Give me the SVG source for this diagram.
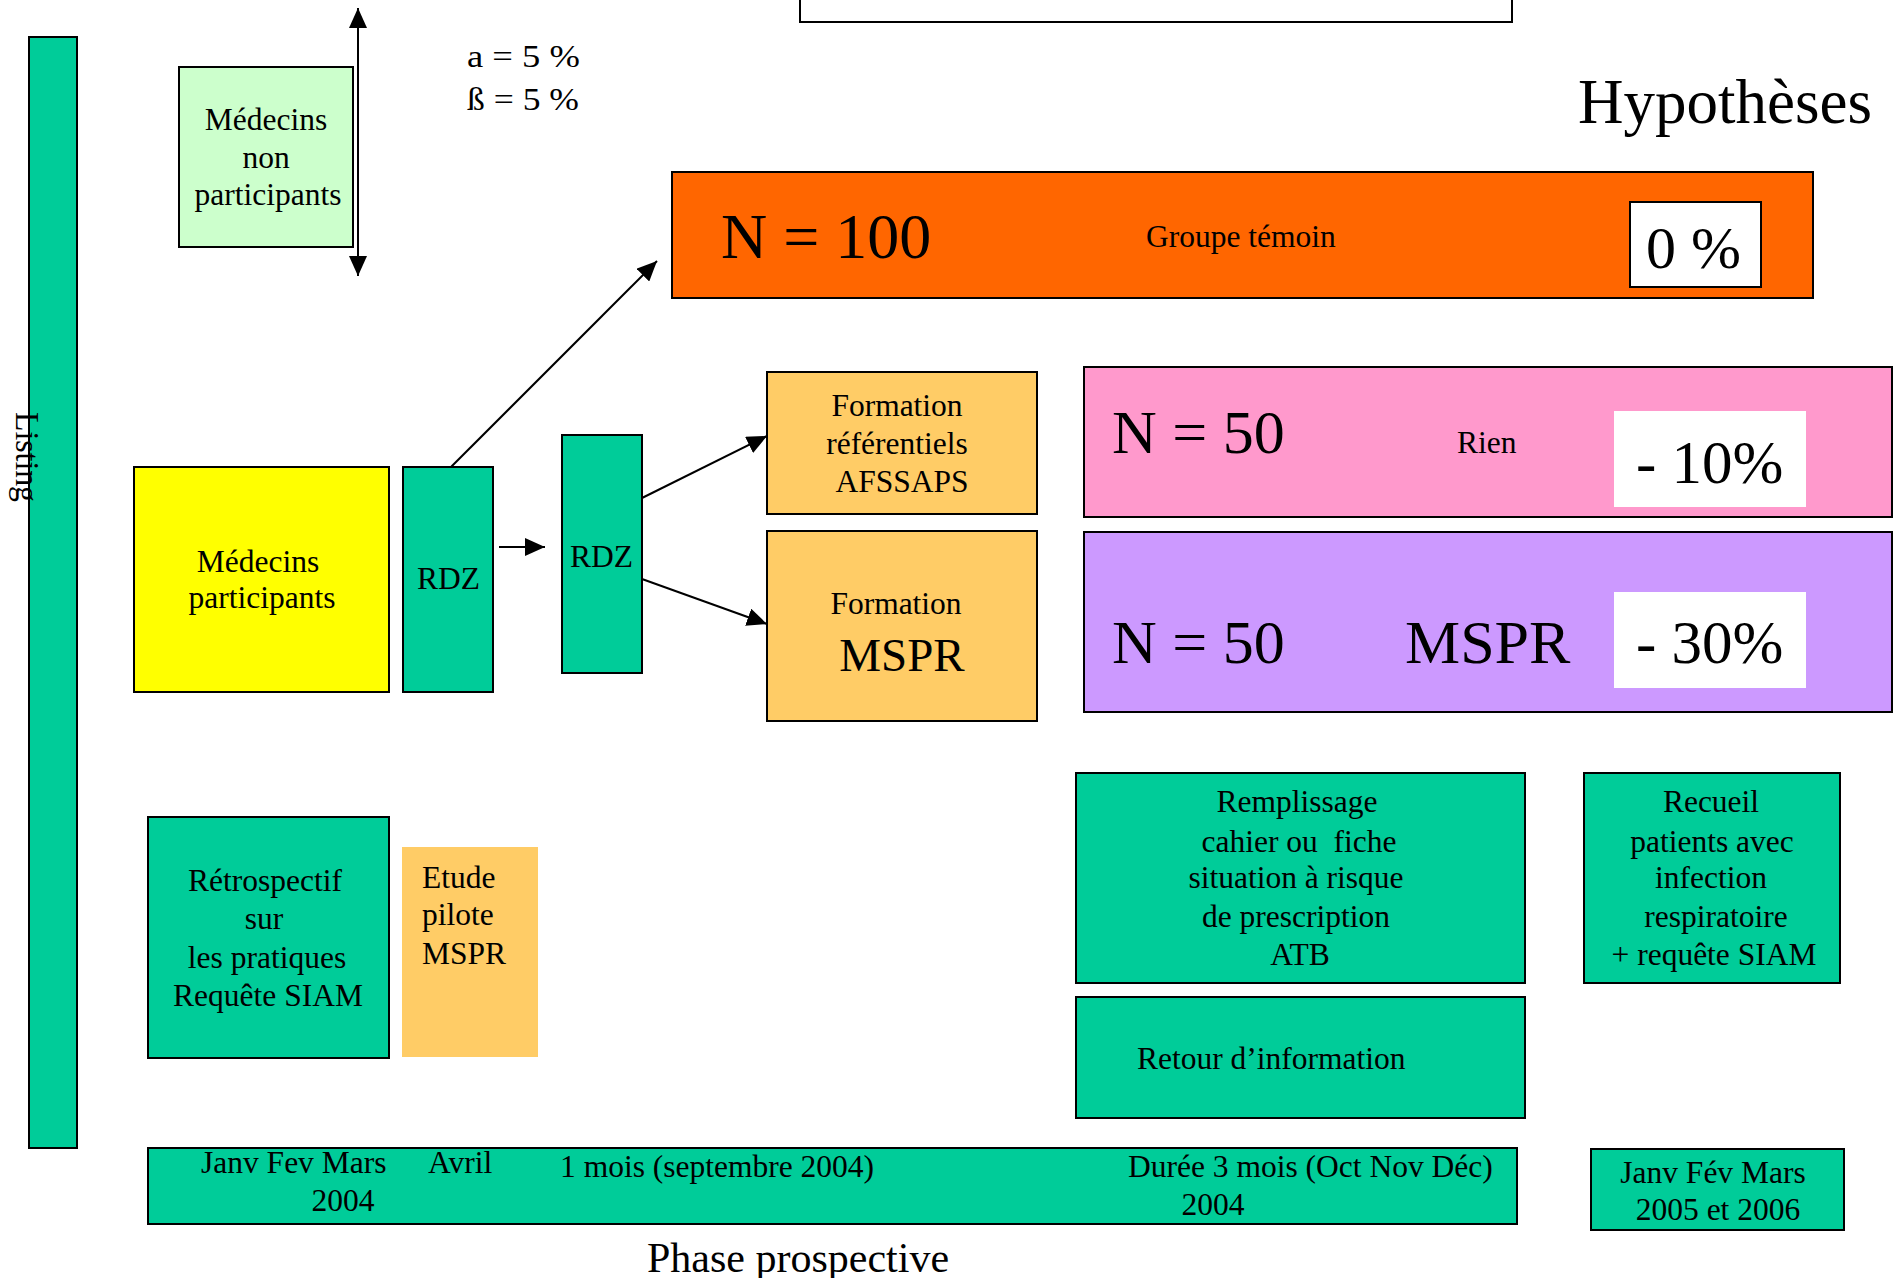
<svg xmlns="http://www.w3.org/2000/svg" width="1894" height="1278" viewBox="0 0 1894 1278">
<style>
text{font-family:"Liberation Serif","Times New Roman",serif;fill:#000}
.s{font-size:31.5px}
.c{text-anchor:middle}
.b{stroke:#000;stroke-width:2}
.teal{fill:#00CC99}
.ln{stroke:#000;stroke-width:2;fill:none}
</style>
<defs>
<marker id="ah" viewBox="0 0 20 18" refX="20" refY="9" markerWidth="20" markerHeight="18" markerUnits="userSpaceOnUse" orient="auto-start-reverse">
<path d="M0,0 L20,9 L0,18 z" fill="#000"/>
</marker>
</defs>
<rect width="1894" height="1278" fill="#fff"/>

<g id="listing">
<rect class="b teal" x="29" y="37" width="48" height="1111"/>
<text transform="translate(16,412) rotate(90)" font-size="34" textLength="90" lengthAdjust="spacingAndGlyphs">Listing</text>
</g>

<g id="top-box">
<rect class="b" fill="#fff" x="800" y="-40" width="712" height="62"/>
</g>

<g id="non-participants">
<rect class="b" fill="#CCFFCC" x="179" y="67" width="174" height="180"/>
<text class="s c" x="266" y="130">Médecins</text>
<text class="s c" x="266" y="168">non</text>
<text class="s c" x="268" y="205">participants</text>
</g>

<g id="alpha-beta">
<text class="s" x="467" y="67" textLength="113" lengthAdjust="spacingAndGlyphs">a = 5 %</text>
<text class="s" x="467" y="110" textLength="112" lengthAdjust="spacingAndGlyphs">ß = 5 %</text>
</g>

<g id="hypotheses">
<text x="1578" y="123" font-size="63">Hypothèses</text>
</g>

<g id="groupe-temoin">
<rect class="b" fill="#FF6600" x="672" y="172" width="1141" height="126"/>
<text x="721" y="258" font-size="64">N = 100</text>
<text class="s" x="1146" y="247">Groupe témoin</text>
<rect class="b" fill="#fff" x="1630" y="202" width="131" height="85"/>
<text x="1646" y="268" font-size="60">0 %</text>
</g>

<g id="medecins-participants">
<rect class="b" fill="#FFFF00" x="134" y="467" width="255" height="225"/>
<text class="s c" x="258" y="572">Médecins</text>
<text class="s c" x="262" y="608">participants</text>
</g>

<g id="rdz1">
<rect class="b teal" x="403" y="467" width="90" height="225"/>
<text class="s c" x="448.5" y="589">RDZ</text>
</g>

<g id="rdz2">
<rect class="b teal" x="562" y="435" width="80" height="238"/>
<text class="s c" x="601.5" y="567">RDZ</text>
</g>

<g id="formation-ref">
<rect class="b" fill="#FFCC66" x="767" y="372" width="270" height="142"/>
<text class="s c" x="897" y="416">Formation</text>
<text class="s c" x="897" y="454">référentiels</text>
<text class="s c" x="902" y="492">AFSSAPS</text>
</g>

<g id="formation-mspr">
<rect class="b" fill="#FFCC66" x="767" y="531" width="270" height="190"/>
<text class="s c" x="896" y="614">Formation</text>
<text class="c" x="902" y="671" font-size="47">MSPR</text>
</g>

<g id="groupe-rien">
<rect class="b" fill="#FF99CC" x="1084" y="367" width="808" height="150"/>
<text x="1112" y="453" font-size="62">N = 50</text>
<text class="s" x="1457" y="453">Rien</text>
<rect fill="#fff" x="1614" y="411" width="192" height="96"/>
<text x="1636" y="483" font-size="61">- 10%</text>
</g>

<g id="groupe-mspr">
<rect class="b" fill="#CC99FF" x="1084" y="532" width="808" height="180"/>
<text x="1112" y="663" font-size="62">N = 50</text>
<text x="1405" y="663" font-size="62">MSPR</text>
<rect fill="#fff" x="1614" y="592" width="192" height="96"/>
<text x="1636" y="663" font-size="61">- 30%</text>
</g>

<g id="retrospectif">
<rect class="b teal" x="148" y="817" width="241" height="241"/>
<text class="s c" x="265" y="891">Rétrospectif</text>
<text class="s c" x="264" y="929">sur</text>
<text class="s c" x="267" y="968">les pratiques</text>
<text class="s c" x="268" y="1006">Requête SIAM</text>
</g>

<g id="etude-pilote">
<rect fill="#FFCC66" x="402" y="847" width="136" height="210"/>
<text class="s" x="422" y="888">Etude</text>
<text class="s" x="422" y="925">pilote</text>
<text class="s" x="422" y="964">MSPR</text>
</g>

<g id="remplissage">
<rect class="b teal" x="1076" y="773" width="449" height="210"/>
<text class="s c" x="1297" y="812">Remplissage</text>
<text class="s c" x="1299" y="852" xml:space="preserve">cahier ou  fiche</text>
<text class="s c" x="1296" y="888">situation à risque</text>
<text class="s c" x="1296" y="927">de prescription</text>
<text class="s c" x="1300" y="965">ATB</text>
</g>

<g id="retour">
<rect class="b teal" x="1076" y="997" width="449" height="121"/>
<text class="s" x="1137" y="1069">Retour d’information</text>
</g>

<g id="recueil">
<rect class="b teal" x="1584" y="773" width="256" height="210"/>
<text class="s c" x="1711" y="812">Recueil</text>
<text class="s c" x="1712" y="852">patients avec</text>
<text class="s c" x="1711" y="888">infection</text>
<text class="s c" x="1716" y="927">respiratoire</text>
<text class="s c" x="1714" y="965">+ requête SIAM</text>
</g>

<g id="timeline">
<rect class="b teal" x="148" y="1148" width="1369" height="76"/>
<text class="s" x="201" y="1173">Janv Fev Mars</text>
<text class="s c" x="343" y="1211">2004</text>
<text class="s" x="428" y="1173">Avril</text>
<text class="s" x="560" y="1177">1 mois (septembre 2004)</text>
<text class="s" x="1128" y="1177">Durée 3 mois (Oct Nov Déc)</text>
<text class="s c" x="1213" y="1215">2004</text>
</g>

<g id="timeline-2005">
<rect class="b teal" x="1591" y="1149" width="253" height="81"/>
<text class="s c" x="1713" y="1183">Janv Fév Mars</text>
<text class="s c" x="1718" y="1220">2005 et 2006</text>
</g>

<g id="phase">
<text x="647" y="1272" font-size="42">Phase prospective</text>
</g>

<g id="connectors">
<line class="ln" x1="358" y1="8" x2="358" y2="276" marker-start="url(#ah)" marker-end="url(#ah)"/>
<line class="ln" x1="451" y1="467" x2="657" y2="261" marker-end="url(#ah)"/>
<line class="ln" x1="499" y1="547" x2="545" y2="547" marker-end="url(#ah)"/>
<line class="ln" x1="642" y1="498" x2="767" y2="436" marker-end="url(#ah)"/>
<line class="ln" x1="642" y1="579" x2="767" y2="624" marker-end="url(#ah)"/>
</g>
</svg>
